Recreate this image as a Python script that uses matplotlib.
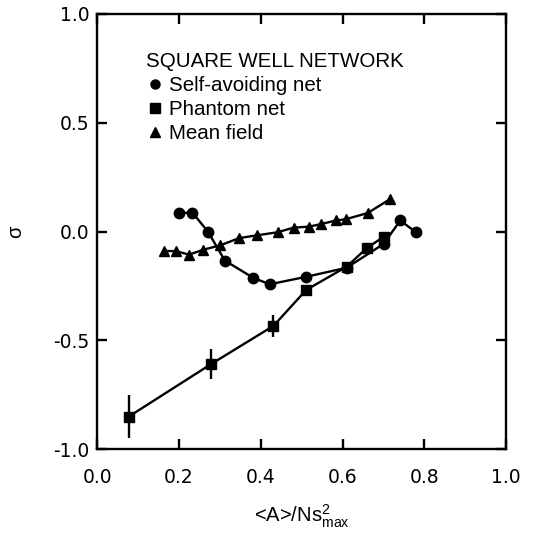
import matplotlib
matplotlib.use("Agg")
import matplotlib.pyplot as plt
from matplotlib.lines import Line2D

plt.rcParams["font.family"] = ["Liberation Sans", "DejaVu Sans"]
plt.rcParams["mathtext.fontset"] = "custom"
plt.rcParams["mathtext.rm"] = "Liberation Sans"
plt.rcParams["mathtext.it"] = "Liberation Sans:italic"
plt.rcParams["axes.unicode_minus"] = False

# self-avoiding net (circles)
sa_x = [0.201, 0.233, 0.271, 0.312, 0.382, 0.422, 0.510, 0.610, 0.700, 0.741, 0.779]
sa_y = [0.085, 0.087, -0.001, -0.133, -0.213, -0.242, -0.208, -0.166, -0.057, 0.051, -0.003]
# phantom net (squares)
ph_x = [0.077, 0.278, 0.431, 0.511, 0.610, 0.659, 0.701]
ph_y = [-0.850, -0.609, -0.433, -0.268, -0.161, -0.076, -0.023]
ph_err = [0.10, 0.07, 0.05, 0.0, 0.0, 0.0, 0.0]
# mean field (triangles)
mf_x = [0.164, 0.193, 0.225, 0.258, 0.301, 0.347, 0.391, 0.441, 0.480, 0.519,
        0.548, 0.584, 0.608, 0.661, 0.716]
mf_y = [-0.089, -0.090, -0.106, -0.084, -0.063, -0.030, -0.017, -0.003, 0.018, 0.023,
        0.035, 0.051, 0.057, 0.085, 0.149]

legend_title = "SQUARE WELL NETWORK"
labels = ["Self-avoiding net", "Phantom net", "Mean field"]
xticks = [0.0, 0.2, 0.4, 0.6, 0.8, 1.0]
yticks = [-1.0, -0.5, 0.0, 0.5, 1.0]

fig = plt.figure(figsize=(5.34, 5.33), dpi=100)
ax = fig.add_axes([0.182, 0.157, 0.766, 0.817])

lw = 1.7
ax.plot(mf_x, mf_y, "-^", color="k", lw=lw, ms=7)
ax.plot(sa_x, sa_y, "-o", color="k", lw=lw, ms=7.5)
ax.errorbar(ph_x, ph_y, yerr=ph_err, fmt="-s", color="k", lw=lw, ms=7,
            elinewidth=1.7, capsize=0)

ax.set_xlim(0, 1.0)
ax.set_ylim(-1.0, 1.0)
ax.set_xticks(xticks)
ax.set_yticks(yticks)
ax.set_xticklabels([f"{v:.1f}" for v in xticks])
ax.set_yticklabels([f"{v:.1f}" for v in yticks])
ax.tick_params(direction="in", length=7, width=1.7, labelsize=13.5,
               top=True, right=True)
ax.tick_params(axis="x", pad=13.5)
ax.tick_params(axis="y", pad=5.5)
for t in ax.get_xticklabels() + ax.get_yticklabels():
    t.set_family("DejaVu Sans")
for s in ax.spines.values():
    s.set_linewidth(1.7)

ax.set_xlabel(r"<A>/Ns$^{2}_{\mathrm{max}}$", fontsize=14.5, labelpad=11)
ax.set_ylabel("σ", fontsize=14.5)
ax.yaxis.set_label_coords(-0.175, 0.5)

handles = [Line2D([], [], marker="o", ls="none", color="k", ms=6.5),
           Line2D([], [], marker="s", ls="none", color="k", ms=6.5),
           Line2D([], [], marker="^", ls="none", color="k", ms=6.5)]
leg = ax.legend(handles, labels, title=legend_title, loc="upper left",
                bbox_to_anchor=(0.095, 0.937), frameon=False, fontsize=14.8,
                title_fontsize=14.8, alignment="left", handlelength=0.8,
                handletextpad=0.3, labelspacing=0.25, borderpad=0)

fig.savefig("out.png", dpi=100)
